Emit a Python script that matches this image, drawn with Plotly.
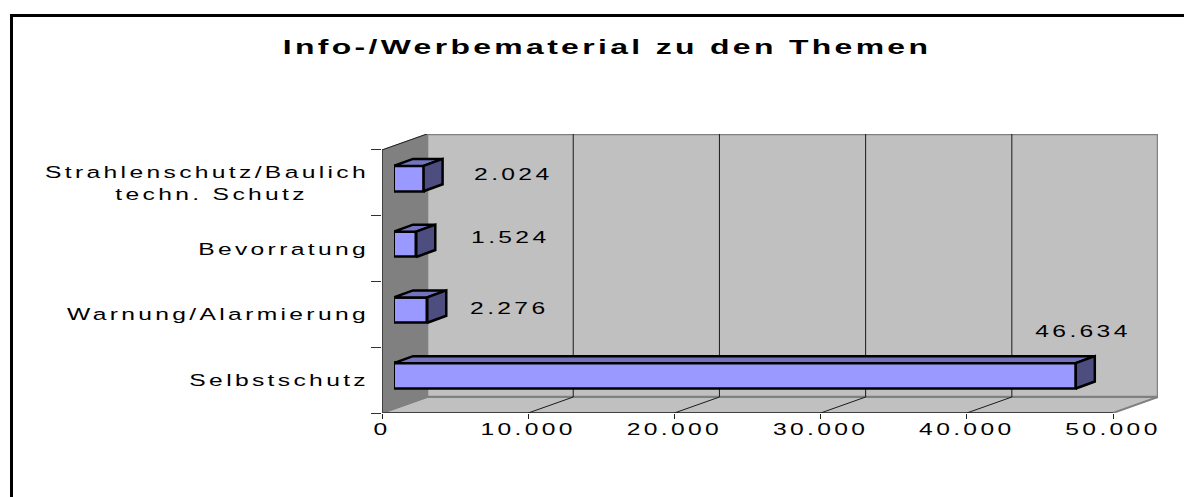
import plotly.graph_objects as go

W, H = 1184, 497

title = "Info-/Werbematerial zu den Themen"
categories = ["Selbstschutz", "Warnung/Alarmierung", "Bevorratung",
              "Strahlenschutz/Baulich<br>techn. Schutz\u00a0\u00a0\u00a0\u00a0\u00a0\u00a0"]
values = [46634, 2276, 1524, 2024]
x_ticks = [0, 10000, 20000, 30000, 40000, 50000]
x_tick_labels = ["0", "10.000", "20.000", "30.000", "40.000", "50.000"]
label_xshift = [7, 82, 94, 90]
label_yshift = [44, 2, 7, 4]

XMAX = 50000
WALL_DX, WALL_DY = 3080, 0.243
BAR_DX, BAR_DY, BAR_H = 1300, 0.106, 0.385
FONT = "Liberation Sans"
lo, hi = -0.5, 3.5


def px(x):
    return x / W


def py(y):
    return 1 - y / H


fig = go.Figure()


def poly(xs, ys, fill, line, lw, xa="x", ya="y"):
    fig.add_trace(go.Scatter(
        x=xs, y=ys, mode="lines", fill="toself" if fill else "none", fillcolor=fill,
        line=dict(color=line, width=lw), cliponaxis=False, hoverinfo="skip",
        showlegend=False, xaxis=xa, yaxis=ya))


# back wall
poly([WALL_DX, XMAX + WALL_DX, XMAX + WALL_DX, WALL_DX, WALL_DX],
     [lo + WALL_DY, lo + WALL_DY, hi + WALL_DY, hi + WALL_DY, lo + WALL_DY],
     "#C0C0C0", "#808080", 2.5)
# floor
poly([0, WALL_DX, XMAX + WALL_DX, XMAX, 0],
     [lo, lo + WALL_DY, lo + WALL_DY, lo, lo], "#C0C0C0", "#808080", 2)
# left wall
poly([0, WALL_DX, WALL_DX, 0, 0],
     [lo, lo + WALL_DY, hi + WALL_DY, hi, lo], "#808080", "#808080", 1)
# slanted top edge, front axis lines
poly([0, WALL_DX], [hi, hi + WALL_DY], None, "#202020", 1)
poly([0, 0], [lo, hi], None, "#404040", 2)
poly([0, XMAX], [lo, lo], None, "#404040", 2)
# grid on the back wall and on the floor
gx, gy = [], []
for t in x_ticks[1:-1]:
    gx += [t, t + WALL_DX, t + WALL_DX, None]
    gy += [lo, lo + WALL_DY, hi + WALL_DY, None]
poly(gx, gy, None, "#1a1a1a", 1)

# bars
fig.add_trace(go.Bar(
    x=values, y=list(range(len(values))), orientation="h", width=BAR_H,
    marker=dict(color="#9999FF", line=dict(color="black", width=2.5)),
    hoverinfo="skip", showlegend=False, xaxis="x2", yaxis="y2"))
for i, v in enumerate(values):
    t, b = i + BAR_H / 2, i - BAR_H / 2
    poly([0, v, v + BAR_DX, BAR_DX, 0], [t, t, t + BAR_DY, t + BAR_DY, t],
         "#7373BF", "black", 2.5, "x2", "y2")
    poly([v, v + BAR_DX, v + BAR_DX, v, v], [b, b + BAR_DY, t + BAR_DY, t, b],
         "#4D4D80", "black", 2.5, "x2", "y2")
    fig.add_annotation(
        x=v, y=i, xref="x2", yref="y2", text=f"{v:,}".replace(",", "."),
        showarrow=False, xshift=label_xshift[i], yshift=label_yshift[i],
        font=dict(family=FONT, size=17, color="black"))

ax_font = dict(family=FONT, size=17, color="black")
fig.update_layout(
    width=W, height=H, margin=dict(l=0, r=0, t=0, b=0, autoexpand=False), autosize=False,
    paper_bgcolor="white", plot_bgcolor="rgba(0,0,0,0)", bargap=0,
    title=dict(text=title, x=607 / W, xanchor="center", y=py(47), yanchor="middle",
               font=dict(family=FONT, size=21, color="black", weight="bold")),
    xaxis=dict(domain=[px(382), px(382 + 0.01462 * (XMAX + WALL_DX))], range=[0, XMAX + WALL_DX],
               anchor="y", tickvals=x_ticks, ticktext=x_tick_labels, ticks="outside", ticklen=5,
               tickcolor="#202020", tickwidth=1, showgrid=False, zeroline=False,
               showline=False, tickfont=ax_font, ticklabelstandoff=-4),
    yaxis=dict(domain=[py(413), py(134)], range=[lo, hi + WALL_DY], anchor="x",
               tickvals=list(range(len(categories))), ticktext=categories,
               ticks="", ticklabelstandoff=12, showgrid=False, zeroline=False,
               showline=False, tickfont=ax_font,
               minor=dict(tickvals=[-0.5, 0.5, 1.5, 2.5, 3.5], ticks="outside",
                          ticklen=10, tickcolor="#303030", tickwidth=1, showgrid=False)),
    xaxis2=dict(domain=[px(394), px(1125)], range=[0, XMAX], anchor="y2", visible=False),
    yaxis2=dict(domain=[py(408.7), py(145.7)], range=[lo, hi], anchor="x2", visible=False),
    shapes=[dict(type="path", xref="paper", yref="paper",
                 path=f"M {px(1210)} {py(15.5)} L {px(11.5)} {py(15.5)} L {px(11.5)} {py(510)}",
                 line=dict(color="black", width=3), layer="above")],
)

post = """
document.documentElement.style.margin='0';document.body.style.margin='0';document.body.style.overflow='hidden';
function stretch(sel, scale, spacing){
  document.querySelectorAll(sel).forEach(function(t){
    t.style.letterSpacing = spacing + 'px';
    var x = parseFloat(t.getAttribute('x')) || 0;
    var tr = t.getAttribute('transform') || '';
    t.setAttribute('transform', tr + ' translate(' + x + ',0) scale(' + scale + ',1) translate(' + (-x) + ',0)');
  });
}
stretch('.xtick text, .ytick text, .annotation-text', 1.45, 2.3);
stretch('.gtitle', 1.52, 2.2);
"""
fig.write_html("out.html", post_script=post, config=dict(displayModeBar=False))
